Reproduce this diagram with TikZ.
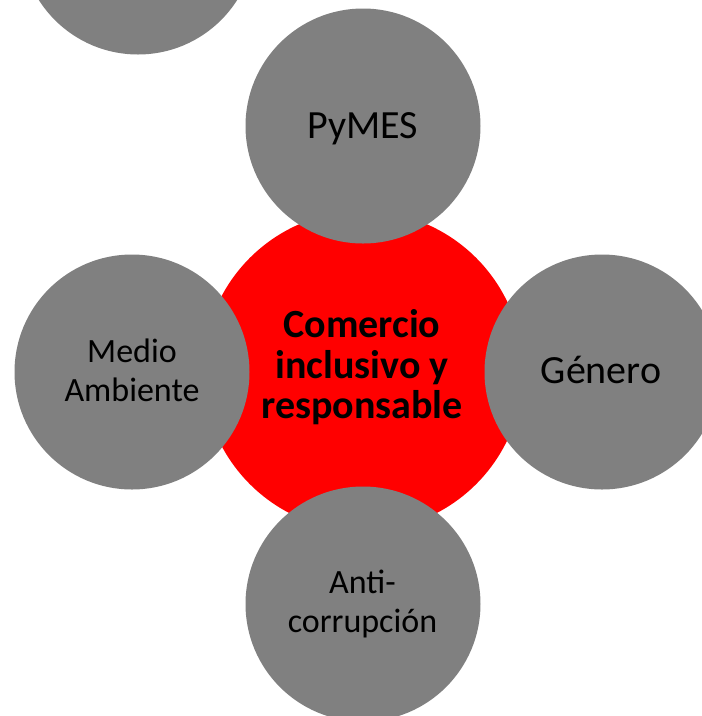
\documentclass[tikz,border=0pt]{standalone}
\usepackage{fontspec}
\setmainfont{Carlito}
\definecolor{ballgray}{RGB}{128,128,128}
\definecolor{hubred}{RGB}{255,0,0}
\begin{document}
\begin{tikzpicture}[x=1pt,y=-1pt,
  hub/.style={circle,fill=hubred,draw=none,minimum size=320pt,inner sep=0pt},
  ball/.style={circle,fill=ballgray,draw=none,minimum size=235pt,inner sep=0pt},
  bigtxt/.style={anchor=base,inner sep=0pt,font=\fontsize{40pt}{40pt}\selectfont},
  hubtxt/.style={anchor=base,inner sep=0pt,font=\fontsize{40pt}{40pt}\selectfont\bfseries},
  smalltxt/.style={anchor=base,inner sep=0pt,font=\fontsize{34pt}{39pt}\selectfont}]
\path[use as bounding box] (0,0) rectangle (702,716);
% central hub
\node[hub] (hub) at (363,371) {};
% satellites
\node[ball] (corner) at (138,-63) {};
\node[ball] (pymes) at (363,126) {};
\node[ball] (medio) at (132,372) {};
\node[ball] (genero) at (602,372) {};
\node[ball] (anti) at (363,604) {};
% texts
\node[hubtxt] (h1) at (362,337) {Comercio};
\node[hubtxt] (h2) at (362,378) {inclusivo y};
\node[hubtxt] (h3) at (362,418) {responsable};
\node[bigtxt] (t1) at (362.5,138) {PyMES};
\node[bigtxt] (t2) at (601,383) {Género};
\node[smalltxt] (m1) at (132,362) {Medio};
\node[smalltxt] (m2) at (132,401) {Ambiente};
\node[smalltxt] (a1) at (362.5,593) {Anti-};
\node[smalltxt] (a2) at (362.5,632) {corrupción};
\end{tikzpicture}
\end{document}
